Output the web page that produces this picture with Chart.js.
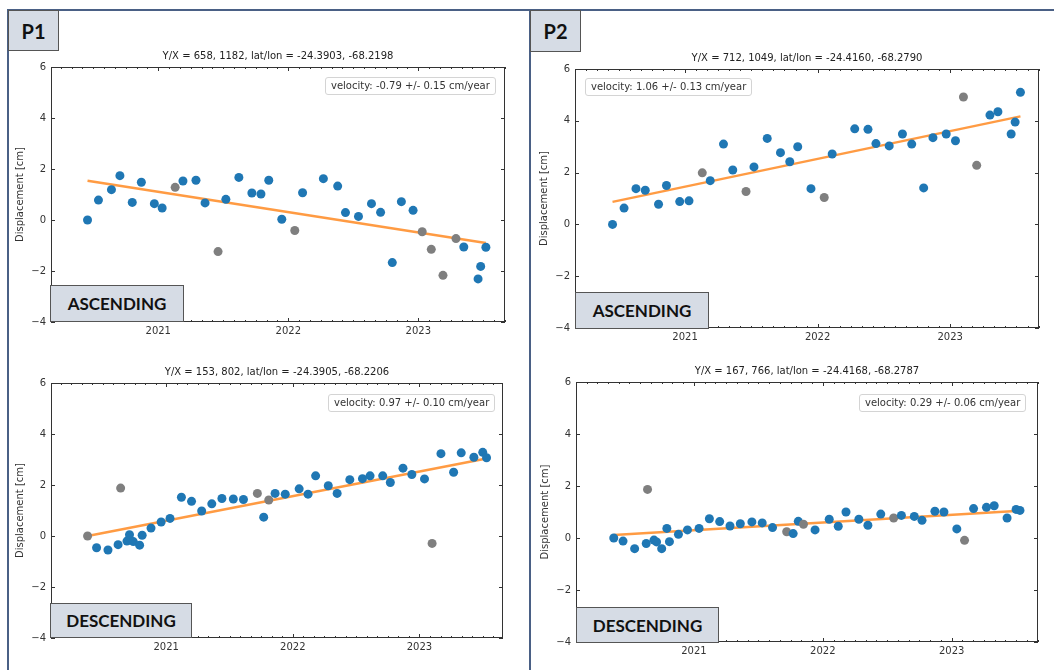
<!DOCTYPE html>
<html>
<head>
<meta charset="utf-8">
<script src="https://cdn.jsdelivr.net/npm/chart.js@4.4.0/dist/chart.umd.min.js"></script>
<style>
  body { margin: 0; width: 1054px; height: 670px; background: #fff; position: relative; overflow: hidden; }
  .panel { position: absolute; border: 2px solid #4a6085; border-bottom: none; box-sizing: border-box; }
  .tag { position: absolute; box-sizing: border-box; background: #d6dce5; border: 1.5px solid #555;
         font-family: Lato, sans-serif; font-weight: 700; color: #111;
         display: flex; align-items: center; justify-content: center; }
  .velo { position: absolute; font: 10px "DejaVu Sans"; color: #333; background: rgba(255,255,255,0.85);
          border: 1px solid #d4d4d4; border-radius: 3px; padding: 1px 5px; line-height: 14px; white-space: nowrap; }
  canvas { position: absolute; }
</style>
</head>
<body>
<div class="panel" style="left:7px;top:9px;width:524px;height:700px;"></div>
<div class="panel" style="left:529px;top:9px;width:560px;height:700px;"></div>

<canvas id="p1asc" width="501" height="295" style="left:14px;top:45px;"></canvas>
<canvas id="p1desc" width="499" height="295" style="left:14px;top:361px;"></canvas>
<canvas id="p2asc" width="511" height="299" style="left:538px;top:47px;"></canvas>
<canvas id="p2desc" width="509" height="300" style="left:539px;top:360px;"></canvas>

<div class="tag" style="left:8px;top:10px;width:51px;height:41px;font-size:20px;">P1</div>
<div class="tag" style="left:530px;top:10px;width:51px;height:42px;font-size:20px;">P2</div>

<div class="velo" id="v1" style="left:325px;top:77px;"></div>
<div class="velo" id="v2" style="left:585px;top:78px;"></div>
<div class="velo" id="v3" style="left:328px;top:394px;"></div>
<div class="velo" id="v4" style="left:859px;top:394px;"></div>

<div class="tag" style="left:50px;top:285px;width:134px;height:37px;font-size:17px;">ASCENDING</div>
<div class="tag" style="left:575px;top:292px;width:134px;height:37px;font-size:17px;">ASCENDING</div>
<div class="tag" style="left:50px;top:603px;width:142px;height:35px;font-size:17px;">DESCENDING</div>
<div class="tag" style="left:576px;top:607px;width:143px;height:36px;font-size:17px;">DESCENDING</div>

<script>
// axis ticks
const yearTicks = [2021, 2022, 2023];
const dispTicks = [-4, -2, 0, 2, 4, 6];

// P1 ascending
const p1AscDates = [2020.456, 2020.54, 2020.64, 2020.705, 2020.80, 2020.87, 2020.97, 2021.03, 2021.13, 2021.19,
  2021.29, 2021.36, 2021.46, 2021.52, 2021.62, 2021.72, 2021.79, 2021.85, 2021.95, 2022.05,
  2022.11, 2022.27, 2022.38, 2022.44, 2022.54, 2022.64, 2022.71, 2022.80, 2022.87, 2022.96,
  2023.03, 2023.10, 2023.19, 2023.29, 2023.35, 2023.46, 2023.48, 2023.52];
const p1AscDisp = [0.0, 0.78, 1.19, 1.74, 0.69, 1.48, 0.64, 0.47, 1.28, 1.53,
  1.56, 0.67, -1.24, 0.81, 1.67, 1.06, 1.02, 1.56, 0.03, -0.41,
  1.07, 1.62, 1.33, 0.29, 0.14, 0.64, 0.30, -1.67, 0.72, 0.38,
  -0.46, -1.15, -2.17, -0.73, -1.06, -2.31, -1.82, -1.07];
const p1AscOutlier = [0,0,0,0,0,0,0,0,1,0, 0,0,1,0,0,0,0,0,0,1, 0,0,0,0,0,0,0,0,0,0, 1,1,1,1,0,0,0,0];
const p1AscTrend = [1.54, -0.90];

// P2 ascending
const p2AscDates = [2020.453, 2020.54, 2020.63, 2020.70, 2020.80, 2020.86, 2020.96, 2021.03, 2021.13, 2021.19,
  2021.29, 2021.36, 2021.46, 2021.52, 2021.62, 2021.72, 2021.79, 2021.85, 2021.95, 2022.05,
  2022.11, 2022.28, 2022.38, 2022.44, 2022.54, 2022.64, 2022.71, 2022.80, 2022.87, 2022.97,
  2023.04, 2023.10, 2023.20, 2023.30, 2023.36, 2023.46, 2023.49, 2023.53];
const p2AscDisp = [0.0, 0.63, 1.38, 1.32, 0.78, 1.50, 0.88, 0.91, 1.99, 1.69,
  3.10, 2.10, 1.27, 2.22, 3.32, 2.77, 2.42, 3.00, 1.38, 1.04,
  2.72, 3.69, 3.67, 3.12, 3.03, 3.49, 3.10, 1.41, 3.35, 3.49,
  3.23, 4.92, 2.28, 4.22, 4.35, 3.49, 3.95, 5.10];
const p2AscOutlier = [0,0,0,0,0,0,0,0,1,0, 0,0,1,0,0,0,0,0,0,1, 0,0,0,0,0,0,0,0,0,0, 0,1,1,0,0,0,0,0];
const p2AscTrend = [0.87, 4.17];

// P1 descending
const p1DescDates = [2020.379, 2020.45, 2020.54, 2020.62, 2020.64, 2020.69, 2020.71, 2020.74, 2020.79, 2020.81,
  2020.88, 2020.96, 2021.03, 2021.12, 2021.20, 2021.28, 2021.36, 2021.44, 2021.53, 2021.61,
  2021.72, 2021.77, 2021.81, 2021.86, 2021.94, 2022.05, 2022.12, 2022.18, 2022.28, 2022.35,
  2022.45, 2022.55, 2022.61, 2022.71, 2022.77, 2022.87, 2022.94, 2023.04, 2023.10, 2023.17,
  2023.27, 2023.33, 2023.43, 2023.50, 2023.53];
const p1DescDisp = [0.0, -0.46, -0.55, -0.34, 1.88, -0.20, 0.05, -0.22, -0.36, 0.03,
  0.31, 0.55, 0.69, 1.52, 1.36, 0.98, 1.26, 1.47, 1.45, 1.43,
  1.67, 0.74, 1.41, 1.67, 1.64, 1.85, 1.64, 2.36, 1.97, 1.67,
  2.21, 2.25, 2.36, 2.36, 2.10, 2.66, 2.41, 2.24, -0.29, 3.23,
  2.50, 3.26, 3.09, 3.28, 3.07];
const p1DescOutlier = [1,0,0,0,1,0,0,0,0,0, 0,0,0,0,0,0,0,0,0,0, 1,0,1,0,0,0,0,0,0,0, 0,0,0,0,0,0,0,0,1,0, 0,0,0,0,0];
const p1DescTrend = [0.0, 3.04];

// P2 descending
const p2DescDates = [2020.378, 2020.45, 2020.54, 2020.63, 2020.64, 2020.69, 2020.71, 2020.75, 2020.79, 2020.81,
  2020.88, 2020.95, 2021.04, 2021.12, 2021.20, 2021.28, 2021.36, 2021.45, 2021.53, 2021.61,
  2021.72, 2021.77, 2021.81, 2021.85, 2021.94, 2022.05, 2022.12, 2022.18, 2022.28, 2022.35,
  2022.45, 2022.55, 2022.61, 2022.71, 2022.77, 2022.87, 2022.94, 2023.04, 2023.10, 2023.17,
  2023.27, 2023.33, 2023.43, 2023.50, 2023.53];
const p2DescDisp = [0.0, -0.12, -0.41, -0.21, 1.87, -0.08, -0.15, -0.41, 0.37, -0.14,
  0.14, 0.31, 0.37, 0.74, 0.63, 0.46, 0.55, 0.62, 0.58, 0.40,
  0.24, 0.17, 0.64, 0.53, 0.31, 0.72, 0.45, 1.00, 0.72, 0.49,
  0.92, 0.77, 0.87, 0.83, 0.68, 1.03, 1.00, 0.35, -0.09, 1.13,
  1.18, 1.24, 0.77, 1.10, 1.06];
const p2DescOutlier = [0,0,0,0,1,0,0,0,0,0, 0,0,0,0,0,0,0,0,0,0, 1,0,0,1,0,0,0,0,0,0, 0,1,0,0,0,0,0,0,1,0, 0,0,0,0,0];
const p2DescTrend = [0.12, 1.05];

const titles = [
  'Y/X = 658, 1182, lat/lon = -24.3903, -68.2198',
  'Y/X = 712, 1049, lat/lon = -24.4160, -68.2790',
  'Y/X = 153, 802, lat/lon = -24.3905, -68.2206',
  'Y/X = 167, 766, lat/lon = -24.4168, -68.2787'
];
const velocities = [
  'velocity: -0.79 +/- 0.15 cm/year',
  'velocity: 1.06 +/- 0.13 cm/year',
  'velocity: 0.97 +/- 0.10 cm/year',
  'velocity: 0.29 +/- 0.06 cm/year'
];

const bluePt = '#1f77b4';
const grayPt = '#7f7f7f';
const trendColor = 'rgba(255,127,14,0.78)';

Chart.defaults.font.family = '"DejaVu Sans", sans-serif';
Chart.defaults.font.size = 10;
Chart.defaults.color = '#333';

// matplotlib-like frame with inward ticks on all four sides
const frameTicks = {
  id: 'frameTicks',
  afterDatasetsDraw(chart) {
    const {ctx, chartArea: a, scales: {x, y}} = chart;
    ctx.save();
    ctx.strokeStyle = '#333';
    ctx.lineWidth = 1;
    ctx.strokeRect(Math.round(a.left) + 0.5, Math.round(a.top) + 0.5, Math.round(a.width) - 1, Math.round(a.height) - 1);
    ctx.beginPath();
    const start = Math.ceil(x.min * 12), end = Math.floor(x.max * 12);
    for (let m = start; m <= end; m++) {
      const px = Math.round(x.getPixelForValue(m / 12)) + 0.5;
      const len = m % 12 === 0 ? 4 : 2;
      ctx.moveTo(px, a.bottom); ctx.lineTo(px, a.bottom - len);
      ctx.moveTo(px, a.top); ctx.lineTo(px, a.top + len);
    }
    dispTicks.forEach(v => {
      const py = Math.round(y.getPixelForValue(v)) + 0.5;
      ctx.moveTo(a.left, py); ctx.lineTo(a.left + 4, py);
      ctx.moveTo(a.right, py); ctx.lineTo(a.right - 4, py);
    });
    ctx.stroke();
    ctx.restore();
  }
};

function makeChart(id, dates, disp, outlier, trend, title, xMin, xMax) {
  const pts = dates.map((d, i) => ({x: d, y: disp[i]}));
  const colors = outlier.map(o => o ? grayPt : bluePt);
  const line = [{x: dates[0], y: trend[0]}, {x: dates[dates.length - 1], y: trend[1]}];
  return new Chart(document.getElementById(id), {
    type: 'scatter',
    data: {
      datasets: [
        {data: pts, backgroundColor: colors, borderWidth: 0, pointRadius: 4.5, pointHoverRadius: 4.5, order: 1},
        {data: line, showLine: true, borderColor: trendColor, borderWidth: 2.5, pointRadius: 0, order: 2}
      ]
    },
    options: {
      responsive: false,
      animation: false,
      events: [],
      layout: {padding: {left: 0, right: 10, top: 0, bottom: 0}},
      plugins: {
        legend: {display: false},
        tooltip: {enabled: false},
        title: {display: true, text: title, fullSize: false, color: '#222',
                font: {size: 10, weight: 'normal'}, padding: {top: 5, bottom: 5}}
      },
      scales: {
        x: {
          type: 'linear', min: xMin, max: xMax,
          grid: {display: false, drawTicks: false}, border: {display: false},
          afterBuildTicks: s => { s.ticks = yearTicks.map(v => ({value: v})); },
          ticks: {padding: 3, maxRotation: 0, callback: v => String(v)},
          afterFit: s => { s.height = 18; }
        },
        y: {
          min: -4, max: 6,
          grid: {display: false, drawTicks: false}, border: {display: false},
          afterBuildTicks: s => { s.ticks = dispTicks.map(v => ({value: v})); },
          ticks: {padding: 5, callback: v => v < 0 ? '\u2212' + Math.abs(v) : String(v)},
          title: {display: true, text: 'Displacement [cm]', padding: 0, font: {size: 10}},
          afterFit: s => { s.width = 37; }
        }
      }
    },
    plugins: [frameTicks]
  });
}

makeChart('p1asc', p1AscDates, p1AscDisp, p1AscOutlier, p1AscTrend, titles[0], 2020.175, 2023.667);
makeChart('p2asc', p2AscDates, p2AscDisp, p2AscOutlier, p2AscTrend, titles[1], 2020.17, 2023.67);
makeChart('p1desc', p1DescDates, p1DescDisp, p1DescOutlier, p1DescTrend, titles[2], 2020.09, 2023.66);
makeChart('p2desc', p2DescDates, p2DescDisp, p2DescOutlier, p2DescTrend, titles[3], 2020.085, 2023.67);

['v1', 'v2', 'v3', 'v4'].forEach((id, i) => { document.getElementById(id).textContent = velocities[i]; });
</script>
</body>
</html>
